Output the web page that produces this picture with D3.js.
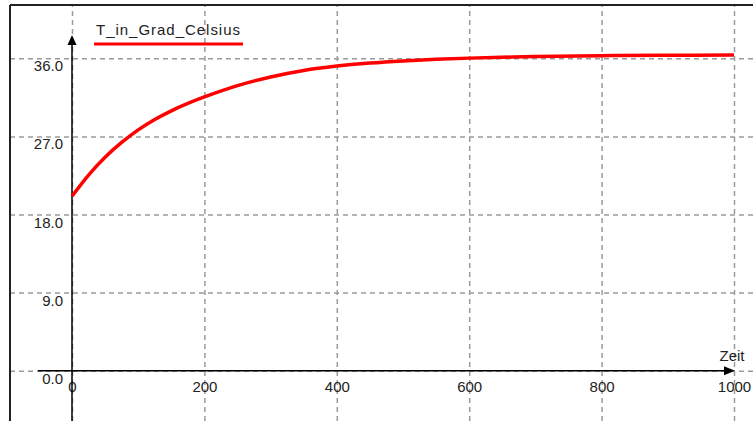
<!DOCTYPE html>
<html>
<head>
<meta charset="utf-8">
<script src="https://cdn.jsdelivr.net/npm/d3@7"></script>
<style>
  html, body { margin: 0; padding: 0; background: #fff; }
  svg { display: block; font-family: Arial, "Liberation Sans", sans-serif; }
</style>
</head>
<body>
<div id="chartArea"></div>
<script>
// data
var timeValues = [0, 25, 50, 75, 100, 125, 150, 175, 200, 250, 300, 350, 400, 450, 500, 550, 600, 650, 700, 800, 900, 1000];
var tempValues = [20.1, 22.55, 24.6, 26.3, 27.75, 28.95, 29.95, 30.8, 31.55, 32.85, 33.85, 34.6, 35.1, 35.45, 35.7, 35.88, 36.02, 36.12, 36.2, 36.3, 36.35, 36.38];
var xTicks = [0, 200, 400, 600, 800, 1000];
var yTicks = [0, 9, 18, 27, 36];
var seriesName = "T_in_Grad_Celsius";
var xLabel = "Zeit";

var W = 753, H = 421;
var frameLeft = 10, frameTop = 5;

var svg = d3.select("#chartArea").append("svg")
    .attr("width", W)
    .attr("height", H);

var x = d3.scaleLinear().domain([0, 1000]).range([72, 734]);
var y = d3.scaleLinear().domain([0, 36]).range([370.7, 58.3]);

//grid (dashed)
var xGrid = svg.append("g")
    .attr("transform", "translate(0," + H + ")")
    .call(d3.axisBottom(x).tickValues(xTicks).tickSize(-(H - frameTop)).tickFormat(""));
var yGrid = svg.append("g")
    .attr("transform", "translate(" + frameLeft + ",0)")
    .call(d3.axisLeft(y).tickValues(yTicks).tickSize(-(W - frameLeft)).tickFormat(""));
svg.selectAll(".domain").remove();
[xGrid, yGrid].forEach(function (g) {
    g.selectAll("line")
        .attr("stroke", "#9a9a9a")
        .attr("stroke-width", 1.5)
        .attr("stroke-dasharray", "5,4");
});

//frame
svg.append("line").attr("x1", frameLeft).attr("y1", frameTop).attr("x2", W).attr("y2", frameTop)
    .attr("stroke", "#222").attr("stroke-width", 2);
svg.append("line").attr("x1", frameLeft).attr("y1", frameTop).attr("x2", frameLeft).attr("y2", H)
    .attr("stroke", "#222").attr("stroke-width", 2);

//tick labels
var xAxis = svg.append("g")
    .attr("transform", "translate(0," + y(0) + ")")
    .call(d3.axisBottom(x).tickValues(xTicks).tickSize(0).tickPadding(10.5).tickFormat(d3.format("d")));
var yAxis = svg.append("g")
    .attr("transform", "translate(" + x(0) + ",0)")
    .call(d3.axisLeft(y).tickValues(yTicks).tickSize(0).tickPadding(9).tickFormat(d3.format(".1f")));
yAxis.selectAll("text").attr("dy", "12.5px");
[xAxis, yAxis].forEach(function (g) {
    g.select(".domain").remove();
    g.selectAll("text")
        .attr("font-size", 15)
        .attr("font-family", "Arial, 'Liberation Sans', sans-serif")
        .attr("fill", "#222");
});

//axis lines with arrows
svg.append("line")
    .attr("x1", 38).attr("y1", y(0)).attr("x2", 726).attr("y2", y(0))
    .attr("stroke", "#000").attr("stroke-width", 1.5);
svg.append("path")
    .attr("d", "M" + 735 + "," + y(0) + "L" + 724 + "," + (y(0) - 4.5) + "L" + 724 + "," + (y(0) + 4.5) + "Z")
    .attr("fill", "#000");
svg.append("line")
    .attr("x1", x(0)).attr("y1", H).attr("x2", x(0)).attr("y2", 44)
    .attr("stroke", "#000").attr("stroke-width", 1.5);
svg.append("path")
    .attr("d", "M" + x(0) + ",35L" + (x(0) - 4.5) + ",45L" + (x(0) + 4.5) + ",45Z")
    .attr("fill", "#000");

svg.append("text")
    .attr("x", 732).attr("y", 361)
    .attr("text-anchor", "middle")
    .attr("font-size", 15)
    .attr("fill", "#222")
    .text(xLabel);

//curve
var points = timeValues.map(function (t, i) { return [t, tempValues[i]]; });
var line = d3.line()
    .x(function (d) { return x(d[0]); })
    .y(function (d) { return y(d[1]); })
    .curve(d3.curveCatmullRom);
svg.append("path")
    .datum(points)
    .attr("d", line)
    .attr("fill", "none")
    .attr("stroke", "#ff0000")
    .attr("stroke-width", 3.5)
    .attr("stroke-linejoin", "round");

//legend
svg.append("text")
    .attr("x", 96).attr("y", 35)
    .attr("font-size", 15)
    .attr("fill", "#222")
    .attr("textLength", 144)
    .attr("lengthAdjust", "spacing")
    .text(seriesName);
svg.append("line")
    .attr("x1", 94).attr("y1", 44).attr("x2", 243).attr("y2", 44)
    .attr("stroke", "#ff0000").attr("stroke-width", 3);
</script>
</body>
</html>
